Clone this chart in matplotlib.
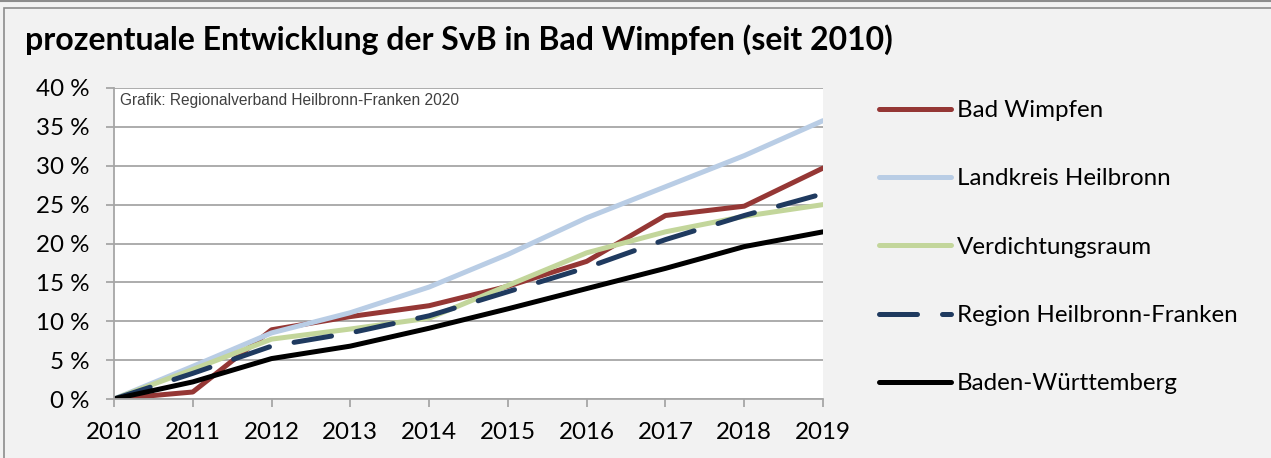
import numpy as np
import matplotlib.pyplot as plt
from matplotlib.patches import Rectangle
from matplotlib.lines import Line2D

# values (percent change since 2010)
years = [2010, 2011, 2012, 2013, 2014, 2015, 2016, 2017, 2018, 2019]
bad_wimpfen = [0, 0.9, 8.9, 10.6, 12.0, 14.5, 17.7, 23.6, 24.8, 29.7]
landkreis_hn = [0, 4.2, 8.5, 11.1, 14.4, 18.6, 23.3, 27.3, 31.3, 35.8]
verdichtungsraum = [0, 3.8, 7.7, 9.0, 10.4, 14.6, 18.8, 21.5, 23.5, 25.0]
region_hnf = [0, 3.3, 6.8, 8.5, 10.7, 13.8, 16.9, 20.5, 23.6, 26.4]
baden_wue = [0, 2.2, 5.2, 6.8, 9.1, 11.6, 14.2, 16.8, 19.6, 21.5]

series = [
    ("Bad Wimpfen", bad_wimpfen, "#953735", "-"),
    ("Landkreis Heilbronn", landkreis_hn, "#b9cde5", "-"),
    ("Verdichtungsraum", verdichtungsraum, "#c3d69b", "-"),
    ("Region Heilbronn-Franken", region_hnf, "#1f3a5f", (0, (7.6, 5.0))),
    ("Baden-Württemberg", baden_wue, "#000000", "-"),
]

W, H = 1271, 458
LABEL_FONT = "Lato"
GRID = "#a6a6a6"
FS = 17.4

fig = plt.figure(figsize=(W / 100, H / 100), dpi=100, facecolor="#f2f2f2")

# outer frame of the panel
fig.add_artist(Line2D([0, 1], [1 - 1 / H] * 2, transform=fig.transFigure,
                      color="#8c8c8c", lw=1.5))
fig.add_artist(Rectangle((4 / W, -0.1), 1.2, (H - 7.5) / H + 0.1,
                         transform=fig.transFigure, fill=False,
                         edgecolor="#8c8c8c", lw=1.2))

fig.text(25 / W, 1 - 50 / H, "prozentuale Entwicklung der SvB in Bad Wimpfen (seit 2010)",
         family=LABEL_FONT, weight="bold", fontsize=23, va="baseline", ha="left")

ax = fig.add_axes([114 / W, 59 / H, 709 / W, 311 / H])
ax.set_facecolor("white")

handles = []
for name, vals, color, ls in series:
    line, = ax.plot(years, vals, color=color, lw=3.6, ls=ls, label=name,
                    solid_capstyle="round", dash_capstyle="round",
                    solid_joinstyle="round")
    handles.append(line)

ax.set_xlim(2010, 2019)
ax.set_ylim(0, 40)
ax.set_xticks(years)
ax.set_yticks(np.arange(0, 41, 5))
ax.set_yticklabels([f"{v} %" for v in range(0, 41, 5)])
ax.grid(axis="y", color=GRID, lw=1.3)
ax.set_axisbelow(True)

for side in ["top", "right"]:
    ax.spines[side].set_visible(False)
for side in ["left", "bottom"]:
    ax.spines[side].set_color(GRID)
    ax.spines[side].set_linewidth(1.3)

ax.tick_params(axis="both", direction="out", length=5.5, width=1.3, color=GRID,
               labelsize=FS)
ax.tick_params(axis="y", pad=12)
ax.tick_params(axis="x", pad=11)
for lbl in ax.get_xticklabels() + ax.get_yticklabels():
    lbl.set_family(LABEL_FONT)

ax.text(6 / 709, 1 - 17 / 311, "Grafik: Regionalverband Heilbronn-Franken 2020",
        transform=ax.transAxes, family="Liberation Sans", fontsize=11.2,
        color="#404040", va="baseline", ha="left")

fig.legend(handles=handles, loc="upper left", bbox_to_anchor=(879 / W, 1 - 100 / H),
           frameon=False, prop={"family": LABEL_FONT, "size": FS},
           handlelength=2.98, handletextpad=0.25, labelspacing=1.96,
           borderpad=0, borderaxespad=0)

fig.savefig("out.png", dpi=100, facecolor=fig.get_facecolor())
